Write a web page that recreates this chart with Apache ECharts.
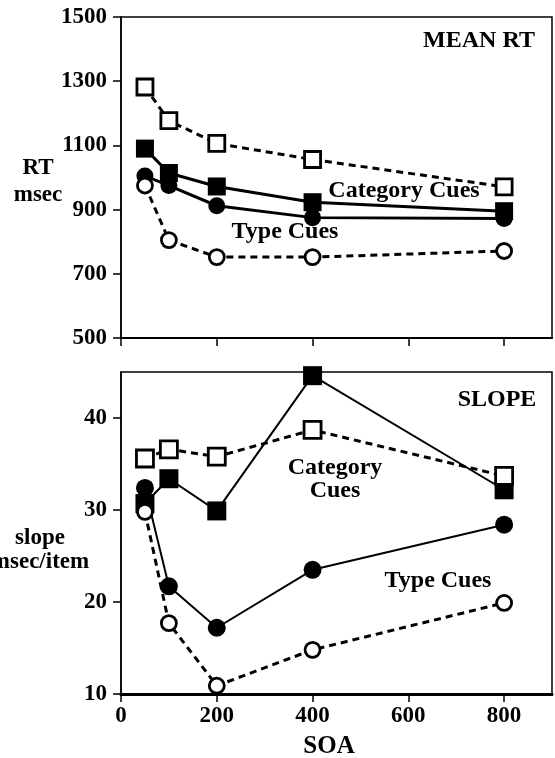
<!DOCTYPE html>
<html>
<head>
<meta charset="utf-8">
<script src="https://cdn.jsdelivr.net/npm/echarts@6/dist/echarts.min.js"></script>
<style>
  html, body { margin: 0; padding: 0; background: #fff; }
  #chart { width: 555px; height: 758px; }
</style>
</head>
<body>
<div id="chart"></div>
<script>
// Stimulus onset asynchrony (msec)
const soa = [50, 100, 200, 400, 800];
const xTicks = [0, 200, 400, 600, 800];

// Mean RT (msec)
const rtCategoryOpen   = [1282, 1177, 1106, 1056, 971];
const rtCategoryFilled = [1090, 1014, 972, 923, 895];
const rtTypeFilled     = [1005, 975, 912, 875, 872];
const rtTypeOpen       = [975, 805, 752, 752, 771];
const rtTicks = [500, 700, 900, 1100, 1300, 1500];

// Search slope (msec/item)
const slopeCategoryOpen   = [35.6, 36.6, 35.8, 38.7, 33.7];
const slopeCategoryFilled = [30.7, 33.4, 29.9, 44.6, 32.2];
const slopeTypeFilled     = [32.4, 21.7, 17.2, 23.5, 28.4];
const slopeTypeOpen       = [29.8, 17.7, 10.9, 14.8, 19.9];
const slopeTicks = [10, 20, 30, 40];

const FONT = '"Liberation Serif", "Times New Roman", serif';
const pairs = vals => soa.map((s, i) => [s, vals[i]]);
const plain = v => String(v);

function xAxisFor(gridIndex, showLabels, lineWidth) {
  return {
    type: 'value', gridIndex, min: 0, max: 900,
    axisLine: { show: true, onZero: false, lineStyle: { color: '#000', width: lineWidth } },
    axisTick: { show: true, inside: false, length: 8, customValues: xTicks,
                lineStyle: { color: '#000', width: 1.5 } },
    axisLabel: { show: showLabels, customValues: xTicks, margin: 11, color: '#000',
                 formatter: plain, fontFamily: FONT, fontWeight: 'bold', fontSize: 23 },
    splitLine: { show: false }
  };
}

function yAxisFor(gridIndex, min, max, ticks) {
  return {
    type: 'value', gridIndex, min, max,
    axisLine: { show: true, onZero: false, lineStyle: { color: '#000', width: 1.5 } },
    axisTick: { show: true, inside: false, length: 8, customValues: ticks,
                lineStyle: { color: '#000', width: 1.5 } },
    axisLabel: { show: true, customValues: ticks, margin: 14, color: '#000',
                 formatter: plain, fontFamily: FONT, fontWeight: 'bold', fontSize: 23 },
    splitLine: { show: false }
  };
}

function lineSeries(idx, data, opts) {
  return {
    type: 'line', xAxisIndex: idx, yAxisIndex: idx, data: pairs(data),
    symbol: opts.symbol, symbolSize: opts.size, showAllSymbol: true,
    animation: false, silent: true,
    lineStyle: { color: '#000', width: opts.width, type: opts.dashed ? [7, 5] : 'solid' },
    itemStyle: opts.open
      ? { color: '#fff', borderColor: '#000', borderWidth: 2.8 }
      : { color: '#000', borderColor: '#000', borderWidth: 0 },
    z: opts.z
  };
}

const txt = (x, y, text, size, extra) => ({
  type: 'text', x, y, silent: true,
  style: Object.assign({
    text, fill: '#000', font: 'bold ' + size + 'px ' + FONT,
    textAlign: 'center', textVerticalAlign: 'middle'
  }, extra || {})
});

const chart = echarts.init(document.getElementById('chart'), null, { renderer: 'canvas' });
chart.setOption({
  backgroundColor: '#fff',
  animation: false,
  grid: [
    { left: 121, width: 431, top: 17, height: 321, show: true,
      borderColor: '#000', borderWidth: 1.5, backgroundColor: 'transparent' },
    { left: 121, width: 431, top: 372, height: 322, show: true,
      borderColor: '#000', borderWidth: 1.5, backgroundColor: 'transparent' }
  ],
  xAxis: [xAxisFor(0, false, 2), xAxisFor(1, true, 3)],
  yAxis: [yAxisFor(0, 500, 1500, rtTicks), yAxisFor(1, 10, 45, slopeTicks)],
  series: [
    lineSeries(0, rtCategoryFilled, { symbol: 'rect', size: 18, width: 3, z: 2 }),
    lineSeries(0, rtTypeFilled, { symbol: 'circle', size: 17, width: 3, z: 3 }),
    lineSeries(0, rtCategoryOpen, { symbol: 'rect', size: 16, width: 3, dashed: true, open: true, z: 4 }),
    lineSeries(0, rtTypeOpen, { symbol: 'circle', size: 15, width: 3, dashed: true, open: true, z: 5 }),
    lineSeries(1, slopeCategoryFilled, { symbol: 'rect', size: 19, width: 2, z: 2 }),
    lineSeries(1, slopeTypeFilled, { symbol: 'circle', size: 18, width: 2, z: 3 }),
    lineSeries(1, slopeCategoryOpen, { symbol: 'rect', size: 17, width: 3, dashed: true, open: true, z: 4 }),
    lineSeries(1, slopeTypeOpen, { symbol: 'circle', size: 15, width: 3, dashed: true, open: true, z: 5 })
  ],
  graphic: [
    txt(479, 41, 'MEAN RT', 24),
    txt(497, 400, 'SLOPE', 24),
    txt(404, 191, 'Category Cues', 24),
    txt(285, 232, 'Type Cues', 24),
    txt(335, 468, 'Category', 24),
    txt(335, 491, 'Cues', 24),
    txt(438, 581, 'Type Cues', 24),
    txt(38, 182, 'RT\nmsec', 23, { lineHeight: 27 }),
    txt(40, 550, 'slope\nmsec/item', 23, { lineHeight: 24 }),
    txt(329, 747, 'SOA', 25)
  ]
});
</script>
</body>
</html>
